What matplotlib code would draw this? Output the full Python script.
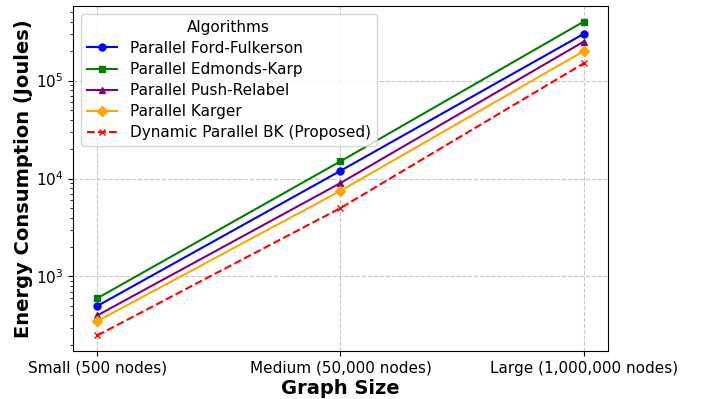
import numpy as np
import matplotlib.pyplot as plt

# ============================================================
# Data
# ============================================================

graph_sizes = ["Small (500 nodes)", "Medium (50,000 nodes)", "Large (1,000,000 nodes)"]

ford_fulkerson = [500, 12000, 300000]
edmonds_karp = [600, 15000, 400000]
push_relabel = [400, 9000, 250000]
karger = [350, 7500, 200000]
dynamic_bk = [250, 5000, 150000]

x = np.arange(len(graph_sizes))

# ============================================================
# Plot
# ============================================================

fig, ax = plt.subplots(figsize=(7.02, 3.99), dpi=100)
plt.subplots_adjust(left=0.104, right=0.866, top=0.985, bottom=0.12)

ax.plot(x, ford_fulkerson, marker='o', ms=5, color='blue', label="Parallel Ford-Fulkerson")
ax.plot(x, edmonds_karp, marker='s', ms=5, color='green', label="Parallel Edmonds-Karp")
ax.plot(x, push_relabel, marker='^', ms=5, color='purple', label="Parallel Push-Relabel")
ax.plot(x, karger, marker='D', ms=5, color='orange', label="Parallel Karger")
ax.plot(x, dynamic_bk, marker='x', ms=5, ls='--', color='red', label="Dynamic Parallel BK (Proposed)")

ax.set_yscale('log')
ax.set_xticks(x)
ax.set_xticklabels(graph_sizes, fontsize=11)
ax.tick_params(axis='y', labelsize=11)

ax.set_xlabel("Graph Size", fontsize=14, fontweight='bold', labelpad=2)
ax.set_ylabel("Energy Consumption (Joules)", fontsize=14, fontweight='bold', labelpad=2)

ax.grid(True, ls='--', alpha=0.7)
ax.legend(title="Algorithms", fontsize=11, title_fontsize=11, loc='upper left',
          labelspacing=0.4)

fig.savefig("out.png", dpi=100)
